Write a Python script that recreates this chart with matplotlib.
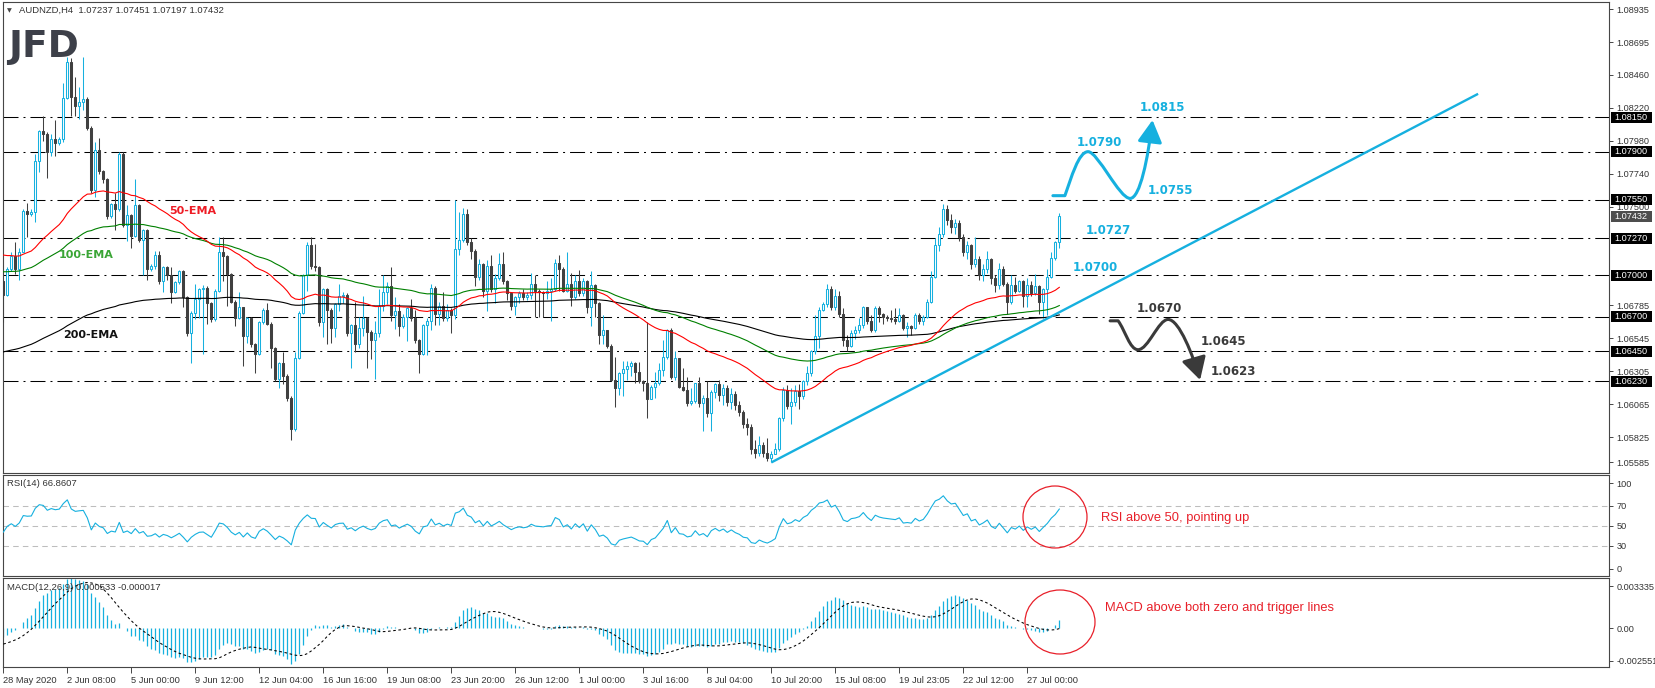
#!/usr/bin/env python3
"""AUDNZD H4 chart with EMAs, RSI and MACD panels (MT4 style)."""

import numpy as np
import matplotlib
matplotlib.use("Agg")
import matplotlib.pyplot as plt
from matplotlib.path import Path
from matplotlib.patches import FancyArrowPatch, Rectangle, Ellipse

plt.rcParams['font.family'] = ['Liberation Sans', 'DejaVu Sans']

# ---- price data (H4 bars, 28 May - 27 Jul 2020) ----
first_open = 1.0696
close = [
    1.0686, 1.0705, 1.0714, 1.0705, 1.0717, 1.0747, 1.0745, 1.0746, 1.0783, 1.0805,
    1.0803, 1.0790, 1.0799, 1.0796, 1.0799, 1.0829, 1.0855, 1.0830, 1.0823, 1.0826,
    1.0828, 1.0807, 1.0762, 1.0791, 1.0776, 1.0770, 1.0743, 1.0752, 1.0748, 1.0788,
    1.0737, 1.0744, 1.0729, 1.0751, 1.0726, 1.0733, 1.0705, 1.0707, 1.0715, 1.0696,
    1.0706, 1.0700, 1.0688, 1.0695, 1.0703, 1.0684, 1.0658, 1.0673, 1.0683, 1.0690,
    1.0691, 1.0680, 1.0668, 1.0689, 1.0717, 1.0714, 1.0701, 1.0681, 1.0669, 1.0677,
    1.0656, 1.0669, 1.0650, 1.0643, 1.0666, 1.0675, 1.0665, 1.0647, 1.0625, 1.0636,
    1.0627, 1.0611, 1.0588, 1.0640, 1.0673, 1.0700, 1.0722, 1.0707, 1.0706, 1.0666,
    1.0690, 1.0675, 1.0662, 1.0679, 1.0685, 1.0686, 1.0658, 1.0664, 1.0650, 1.0662,
    1.0669, 1.0659, 1.0653, 1.0658, 1.0678, 1.0688, 1.0692, 1.0671, 1.0674, 1.0663,
    1.0670, 1.0676, 1.0669, 1.0653, 1.0643, 1.0664, 1.0667, 1.0691, 1.0672, 1.0678,
    1.0669, 1.0675, 1.0671, 1.0719, 1.0726, 1.0745, 1.0724, 1.0718, 1.0699, 1.0708,
    1.0689, 1.0707, 1.0690, 1.0698, 1.0708, 1.0696, 1.0687, 1.0678, 1.0684, 1.0687,
    1.0684, 1.0686, 1.0694, 1.0689, 1.0688, 1.0687, 1.0689, 1.0690, 1.0709, 1.0705,
    1.0689, 1.0694, 1.0684, 1.0696, 1.0687, 1.0696, 1.0677, 1.0693, 1.0680, 1.0657,
    1.0660, 1.0649, 1.0624, 1.0618, 1.0629, 1.0632, 1.0634, 1.0636, 1.0630, 1.0623,
    1.0622, 1.0610, 1.0619, 1.0622, 1.0631, 1.0641, 1.0660, 1.0626, 1.0640, 1.0619,
    1.0617, 1.0607, 1.0609, 1.0622, 1.0607, 1.0611, 1.0600, 1.0615, 1.0621, 1.0613,
    1.0618, 1.0608, 1.0614, 1.0606, 1.0601, 1.0592, 1.0590, 1.0574, 1.0571, 1.0577,
    1.0571, 1.0567, 1.0570, 1.0574, 1.0596, 1.0617, 1.0605, 1.0608, 1.0616, 1.0612,
    1.0623, 1.0629, 1.0645, 1.0656, 1.0675, 1.0679, 1.0690, 1.0677, 1.0685, 1.0672,
    1.0653, 1.0649, 1.0658, 1.0660, 1.0664, 1.0677, 1.0667, 1.0660, 1.0676, 1.0672,
    1.0670, 1.0669, 1.0668, 1.0667, 1.0671, 1.0662, 1.0663, 1.0662, 1.0671, 1.0667,
    1.0670, 1.0681, 1.0699, 1.0722, 1.0730, 1.0748, 1.0740, 1.0735, 1.0738, 1.0728,
    1.0717, 1.0722, 1.0708, 1.0712, 1.0700, 1.0705, 1.0712, 1.0698, 1.0693, 1.0705,
    1.0694, 1.0681, 1.0693, 1.0689, 1.0696, 1.0685, 1.0693, 1.0687, 1.0692, 1.0681,
    1.0690, 1.0699, 1.0713, 1.0724, 1.07432,
]
high = [
    1.0697, 1.0706, 1.0717, 1.0724, 1.0720, 1.0748, 1.0753, 1.0748, 1.0788, 1.0806,
    1.0816, 1.0804, 1.0803, 1.0813, 1.0801, 1.0840, 1.0859, 1.0858, 1.0844, 1.0837,
    1.0859, 1.0830, 1.0809, 1.0797, 1.0800, 1.0777, 1.0771, 1.0753, 1.0760, 1.0790,
    1.0790, 1.0751, 1.0745, 1.0770, 1.0752, 1.0734, 1.0734, 1.0708, 1.0718, 1.0718,
    1.0707, 1.0707, 1.0706, 1.0696, 1.0704, 1.0704, 1.0685, 1.0674, 1.0694, 1.0691,
    1.0693, 1.0692, 1.0681, 1.0690, 1.0728, 1.0728, 1.0715, 1.0702, 1.0682, 1.0688,
    1.0677, 1.0670, 1.0670, 1.0651, 1.0667, 1.0676, 1.0680, 1.0666, 1.0648, 1.0637,
    1.0644, 1.0628, 1.0612, 1.0644, 1.0674, 1.0701, 1.0724, 1.0728, 1.0723, 1.0707,
    1.0691, 1.0691, 1.0676, 1.0680, 1.0694, 1.0688, 1.0687, 1.0665, 1.0681, 1.0670,
    1.0685, 1.0670, 1.0660, 1.0667, 1.0690, 1.0700, 1.0695, 1.0706, 1.0684, 1.0679,
    1.0672, 1.0677, 1.0683, 1.0675, 1.0654, 1.0665, 1.0669, 1.0694, 1.0692, 1.0681,
    1.0688, 1.0679, 1.0676, 1.0755, 1.0746, 1.0749, 1.0748, 1.0727, 1.0719, 1.0712,
    1.0709, 1.0711, 1.0715, 1.0701, 1.0716, 1.0717, 1.0697, 1.0688, 1.0685, 1.0689,
    1.0690, 1.0688, 1.0702, 1.0700, 1.0690, 1.0689, 1.0696, 1.0698, 1.0712, 1.0715,
    1.0706, 1.0717, 1.0702, 1.0700, 1.0704, 1.0698, 1.0697, 1.0703, 1.0694, 1.0681,
    1.0671, 1.0660, 1.0650, 1.0641, 1.0630, 1.0638, 1.0638, 1.0638, 1.0637, 1.0637,
    1.0624, 1.0666, 1.0620, 1.0630, 1.0636, 1.0653, 1.0661, 1.0662, 1.0645, 1.0640,
    1.0633, 1.0626, 1.0618, 1.0622, 1.0626, 1.0613, 1.0623, 1.0617, 1.0622, 1.0624,
    1.0621, 1.0620, 1.0618, 1.0616, 1.0609, 1.0602, 1.0596, 1.0592, 1.0580, 1.0583,
    1.0579, 1.0582, 1.0572, 1.0578, 1.0597, 1.0619, 1.0620, 1.0618, 1.0620, 1.0621,
    1.0624, 1.0634, 1.0646, 1.0671, 1.0677, 1.0681, 1.0694, 1.0692, 1.0690, 1.0689,
    1.0676, 1.0657, 1.0660, 1.0663, 1.0669, 1.0678, 1.0677, 1.0671, 1.0678, 1.0678,
    1.0673, 1.0671, 1.0675, 1.0676, 1.0676, 1.0672, 1.0666, 1.0664, 1.0673, 1.0673,
    1.0671, 1.0683, 1.0703, 1.0727, 1.0735, 1.0752, 1.0751, 1.0745, 1.0741, 1.0740,
    1.0730, 1.0725, 1.0723, 1.0728, 1.0714, 1.0708, 1.0718, 1.0713, 1.0700, 1.0709,
    1.0707, 1.0695, 1.0700, 1.0699, 1.0697, 1.0697, 1.0698, 1.0696, 1.0701, 1.0693,
    1.0691, 1.0705, 1.0717, 1.0725, 1.07451,
]
low = [
    1.0666, 1.0685, 1.0703, 1.0701, 1.0697, 1.0717, 1.0728, 1.0743, 1.0739, 1.0775,
    1.0798, 1.0771, 1.0787, 1.0787, 1.0795, 1.0797, 1.0828, 1.0816, 1.0816, 1.0814,
    1.0820, 1.0806, 1.0760, 1.0757, 1.0774, 1.0767, 1.0741, 1.0742, 1.0733, 1.0747,
    1.0735, 1.0725, 1.0720, 1.0728, 1.0724, 1.0700, 1.0697, 1.0703, 1.0705, 1.0694,
    1.0688, 1.0697, 1.0680, 1.0687, 1.0694, 1.0677, 1.0656, 1.0636, 1.0668, 1.0669,
    1.0643, 1.0665, 1.0666, 1.0667, 1.0688, 1.0696, 1.0678, 1.0680, 1.0663, 1.0668,
    1.0634, 1.0651, 1.0648, 1.0629, 1.0642, 1.0665, 1.0664, 1.0633, 1.0623, 1.0618,
    1.0621, 1.0609, 1.0580, 1.0587, 1.0639, 1.0672, 1.0689, 1.0705, 1.0703, 1.0663,
    1.0655, 1.0650, 1.0651, 1.0655, 1.0674, 1.0680, 1.0656, 1.0633, 1.0644, 1.0647,
    1.0656, 1.0633, 1.0639, 1.0625, 1.0655, 1.0674, 1.0679, 1.0667, 1.0661, 1.0656,
    1.0662, 1.0652, 1.0667, 1.0651, 1.0629, 1.0642, 1.0642, 1.0660, 1.0664, 1.0664,
    1.0667, 1.0667, 1.0658, 1.0668, 1.0715, 1.0724, 1.0722, 1.0712, 1.0692, 1.0697,
    1.0684, 1.0674, 1.0688, 1.0680, 1.0697, 1.0694, 1.0682, 1.0675, 1.0671, 1.0680,
    1.0682, 1.0682, 1.0683, 1.0670, 1.0670, 1.0670, 1.0683, 1.0667, 1.0689, 1.0689,
    1.0688, 1.0688, 1.0678, 1.0683, 1.0685, 1.0685, 1.0673, 1.0663, 1.0670, 1.0650,
    1.0650, 1.0647, 1.0623, 1.0604, 1.0613, 1.0612, 1.0624, 1.0627, 1.0622, 1.0622,
    1.0616, 1.0596, 1.0611, 1.0611, 1.0620, 1.0627, 1.0639, 1.0625, 1.0624, 1.0618,
    1.0616, 1.0605, 1.0606, 1.0607, 1.0604, 1.0587, 1.0597, 1.0587, 1.0611, 1.0609,
    1.0606, 1.0605, 1.0603, 1.0602, 1.0598, 1.0589, 1.0584, 1.0570, 1.0567, 1.0569,
    1.0568, 1.0565, 1.0564, 1.0570, 1.0572, 1.0594, 1.0603, 1.0592, 1.0605, 1.0603,
    1.0610, 1.0620, 1.0627, 1.0643, 1.0647, 1.0674, 1.0677, 1.0675, 1.0675, 1.0670,
    1.0649, 1.0645, 1.0648, 1.0654, 1.0658, 1.0662, 1.0665, 1.0659, 1.0659, 1.0666,
    1.0665, 1.0667, 1.0666, 1.0665, 1.0666, 1.0660, 1.0655, 1.0657, 1.0661, 1.0665,
    1.0664, 1.0669, 1.0680, 1.0698, 1.0718, 1.0728, 1.0737, 1.0731, 1.0730, 1.0725,
    1.0714, 1.0712, 1.0705, 1.0706, 1.0697, 1.0696, 1.0702, 1.0694, 1.0688, 1.0690,
    1.0692, 1.0672, 1.0679, 1.0687, 1.0688, 1.0677, 1.0677, 1.0685, 1.0686, 1.0672,
    1.0669, 1.0671, 1.0698, 1.0711, 1.07197,
]

x_labels = ["28 May 2020", "2 Jun 08:00", "5 Jun 00:00", "9 Jun 12:00", "12 Jun 04:00",
            "16 Jun 16:00", "19 Jun 08:00", "23 Jun 20:00", "26 Jun 12:00", "1 Jul 00:00",
            "3 Jul 16:00", "8 Jul 04:00", "10 Jul 20:00", "15 Jul 08:00", "19 Jul 23:05",
            "22 Jul 12:00", "27 Jul 00:00"]
label_every = 16

price_ticks = [1.08935, 1.08695, 1.08460, 1.08220, 1.07980, 1.07740, 1.07500,
               1.06785, 1.06545, 1.06305, 1.06065, 1.05825, 1.05585]
levels = [1.0815, 1.0790, 1.0755, 1.0727, 1.0700, 1.0670, 1.0645, 1.0623]

# indicator starting values (state of the indicators before the first bar)
ema_seeds = {50: 1.0716, 100: 1.0703, 200: 1.0644}
macd_seeds = (1.0691, 1.0697, -0.0011)   # ema12, ema26, signal history
rsi_seeds = (0.0006, 0.0007)             # avg gain, avg loss

# trend line drawn from the July low
trend_end_bar = 368.7
trend_slope = 0.0001517   # price per bar

# ---- colours ----
CYAN = '#16B0DF'
DARK = '#404040'
RED = '#E8202A'
FRAME = '#464646'
TXT = '#333333'

W, H, DPI = 1655, 688, 100
LEFT, RIGHT = 2.7, 1609.3
MAIN_TOP, MAIN_BOT = 1.5, 472.5
YTOP, YBOT = 1.08992, 1.05567
XLIM = (-0.15, 401.5)


def ema(values, period, seed):
    k = 2.0 / (period + 1)
    out, prev = [], seed
    for v in values:
        prev = prev + k * (v - prev)
        out.append(prev)
    return np.array(out)


def fx(px):
    return px / W


def fy(py):
    return 1 - py / H


def price_py(p):
    return MAIN_TOP + (YTOP - p) / (YTOP - YBOT) * (MAIN_BOT - MAIN_TOP)


c = np.array(close)
h = np.array(high)
l = np.array(low)
o = np.concatenate([[first_open], c[:-1]])
h = np.maximum(h, np.maximum(o, c))
l = np.minimum(l, np.minimum(o, c))
x = np.arange(len(c))

# indicators
emas = {p: ema(c, p, s) for p, s in ema_seeds.items()}
macd = ema(c, 12, macd_seeds[0]) - ema(c, 26, macd_seeds[1])
padded = np.concatenate([np.full(8, macd_seeds[2]), macd])
signal = np.convolve(padded, np.ones(9) / 9, mode='valid')

ag, al = rsi_seeds
rsi = []
prev = first_open
for v in c:
    d = v - prev
    prev = v
    ag = (ag * 13 + max(d, 0)) / 14
    al = (al * 13 + max(-d, 0)) / 14
    rsi.append(100 - 100 / (1 + ag / al))
rsi = np.array(rsi)

# ---- figure ----
fig = plt.figure(figsize=(W / DPI, H / DPI), dpi=DPI)
fig.patch.set_facecolor('white')


def panel(top, bottom):
    a = fig.add_axes([fx(LEFT), fy(bottom), fx(RIGHT - LEFT), (bottom - top) / H])
    a.set_xlim(*XLIM)
    for s in a.spines.values():
        s.set_color(FRAME)
        s.set_linewidth(0.8)
    a.yaxis.tick_right()
    a.tick_params(axis='y', length=3, width=0.7, color=FRAME, labelsize=6.6,
                  labelcolor=TXT, pad=2)
    a.tick_params(axis='x', bottom=False, labelbottom=False)
    return a


ax = panel(MAIN_TOP, MAIN_BOT)
ax_rsi = panel(475.3, 576.0)
ax_macd = panel(578.3, 666.7)

# main panel
ax.set_ylim(YBOT, YTOP)
tick_pos = list(price_ticks)
tick_pos[-1] = price_ticks[-1] + 8 * (YTOP - YBOT) / (MAIN_BOT - MAIN_TOP)
ax.set_yticks(tick_pos)
ax.set_yticklabels([f"{v:.5f}" for v in price_ticks])

for lv in levels:
    ax.axhline(lv, color='black', lw=0.75, ls=(0, (14.4, 4.8, 1.9, 4.8)), zorder=2)

up = c >= o
colors = np.where(up, CYAN, DARK)
ax.vlines(x, l, h, colors=colors, lw=0.75, zorder=3)
body_lo = np.minimum(o, c)
body_h = np.maximum(np.abs(c - o), 0.00004)
ax.bar(x[up], body_h[up], bottom=body_lo[up], width=0.55, facecolor='white',
       edgecolor=CYAN, lw=0.75, zorder=4)
ax.bar(x[~up], body_h[~up], bottom=body_lo[~up], width=0.55, facecolor=DARK,
       edgecolor=DARK, lw=0.75, zorder=4)

ax.plot(x, emas[200], color='black', lw=0.8, zorder=5)
ax.plot(x, emas[100], color='#008000', lw=0.8, zorder=5)
ax.plot(x, emas[50], color='#FF0000', lw=0.8, zorder=5)

ax.text(41.4, 1.07469, '50-EMA', color='#EE1C25', fontsize=8, fontweight='bold',
        family='DejaVu Sans', va='center', zorder=7)
ax.text(13.9, 1.07149, '100-EMA', color='#3AA535', fontsize=8, fontweight='bold',
        family='DejaVu Sans', va='center', zorder=7)
ax.text(14.9, 1.06567, '200-EMA', color='#111111', fontsize=8, fontweight='bold',
        family='DejaVu Sans', va='center', zorder=7)

# trend line from the lowest low
k0 = int(np.argmin(l))
ax.plot([k0, trend_end_bar], [l[k0], l[k0] + trend_slope * (trend_end_bar - k0)],
        color=CYAN, lw=1.7, zorder=6, solid_capstyle='butt')

# scenario arrows
M, L4, C4 = Path.MOVETO, Path.LINETO, Path.CURVE4
up_verts = [(262.4, 1.0758), (265.4, 1.0758),
            (267.0, 1.0771), (268.8, 1.0790), (271.2, 1.0790),
            (273.6, 1.0790), (279.0, 1.0756), (281.7, 1.0756),
            (284.2, 1.0756), (286.2, 1.0786), (287.3, 1.0813)]
dn_verts = [(276.7, 1.0667), (278.7, 1.0667),
            (280.5, 1.0660), (281.6, 1.0646), (283.7, 1.0646),
            (286.2, 1.0646), (288.8, 1.0668), (291.2, 1.0668),
            (294.0, 1.0668), (297.5, 1.0641), (299.2, 1.0624)]
codes = [M, L4] + [C4] * 9
for verts, col in ((up_verts, CYAN), (dn_verts, '#3A3A3A')):
    arr = FancyArrowPatch(path=Path(verts, codes),
                          arrowstyle='-|>,head_length=0.9,head_width=0.5',
                          mutation_scale=15, lw=2.2, color=col, zorder=8)
    ax.add_patch(arr)

level_labels = [
    ('1.0815', 284.2, 1.08223, CYAN), ('1.0790', 268.4, 1.07970, CYAN),
    ('1.0755', 286.2, 1.07621, CYAN), ('1.0727', 270.7, 1.07330, CYAN),
    ('1.0700', 267.4, 1.07061, CYAN), ('1.0670', 283.4, 1.06756, '#3A3A3A'),
    ('1.0645', 299.4, 1.06516, '#3A3A3A'), ('1.0623', 301.9, 1.06298, '#3A3A3A'),
]
for txt, bx, py, col in level_labels:
    ax.text(bx, py, txt, color=col, fontsize=8.5, fontweight='bold',
            family='DejaVu Sans', va='center', ha='left', zorder=9)

# right side price boxes
for lv in levels:
    yy = price_py(lv)
    fig.add_artist(Rectangle((fx(1610.5), fy(yy + 5.5)), 41 / W, 11 / H,
                             transform=fig.transFigure, fc='black', ec='none', zorder=10))
    fig.text(fx(1631), fy(yy), f"{lv:.5f}", color='white', fontsize=6.6,
             ha='center', va='center', zorder=11)
last = close[-1]
yy = price_py(last)
fig.add_artist(Rectangle((fx(1610.5), fy(yy + 5.5)), 41 / W, 11 / H,
                         transform=fig.transFigure, fc='#4D4D4D', ec='none', zorder=10))
fig.text(fx(1631), fy(yy), f"{last:.5f}", color='white', fontsize=6.6,
         ha='center', va='center', zorder=11)

# RSI panel
ax_rsi.set_ylim(0, 100)
for lv in (30, 50, 70):
    ax_rsi.axhline(lv, color='#BDBDBD', lw=0.75, ls=(0, (5.3, 4)), zorder=1)
ax_rsi.plot(x, rsi, color=CYAN, lw=0.8, zorder=3)
ax_rsi.set_yticks([92, 70, 50, 30, 7])
ax_rsi.set_yticklabels(['100', '70', '50', '30', '0'])

# MACD panel
ax_macd.set_ylim(-0.002551, 0.003335)
ax_macd.vlines(x, 0, macd, colors=CYAN, lw=0.9, zorder=2)
ax_macd.plot(x, signal, color='black', lw=0.75, ls=(0, (2.5, 2.5)), zorder=3)
ax_macd.set_yticks([0.00282, 0.0, -0.00217])
ax_macd.set_yticklabels(['0.003335', '0.00', '-0.002551'])

ax_macd.tick_params(axis='x', bottom=True, labelbottom=True, length=4, width=0.7,
                    color=FRAME, labelsize=6.7, labelcolor=TXT, pad=3)
ax_macd.set_xticks(range(0, label_every * len(x_labels), label_every))
ax_macd.set_xticklabels(x_labels)
for t in ax_macd.get_xticklabels():
    t.set_horizontalalignment('left')

# headers and captions
fig.text(fx(6.5), fy(10.5), '\u25BC', fontsize=4.5, color='#444444', va='center',
         family='DejaVu Sans')
fig.text(fx(19), fy(10.5), 'AUDNZD,H4  1.07237 1.07451 1.07197 1.07432',
         fontsize=6.8, color=TXT, va='center')
fig.text(fx(8), fy(57), 'JFD', fontsize=27, fontweight='bold', color='#3D4049',
         family='DejaVu Sans', va='baseline')
fig.text(fx(7), fy(484), 'RSI(14) 66.8607', fontsize=6.8, color=TXT, va='center')
fig.text(fx(7), fy(588), 'MACD(12,26,9) 0.000533 -0.000017', fontsize=6.8,
         color=TXT, va='center')

# highlight circles and comments
fig.add_artist(Ellipse((fx(1055), fy(517)), 64 / W, 62 / H, transform=fig.transFigure,
                       fill=False, ec=RED, lw=0.9))
fig.add_artist(Ellipse((fx(1060), fy(622)), 70 / W, 64 / H, transform=fig.transFigure,
                       fill=False, ec=RED, lw=0.9))
fig.text(fx(1101), fy(518), 'RSI above 50, pointing up', color=RED, fontsize=9.3,
         va='center')
fig.text(fx(1105), fy(608), 'MACD above both zero and trigger lines', color=RED,
         fontsize=9.3, va='center')

fig.savefig('out.png', dpi=DPI, facecolor='white')
